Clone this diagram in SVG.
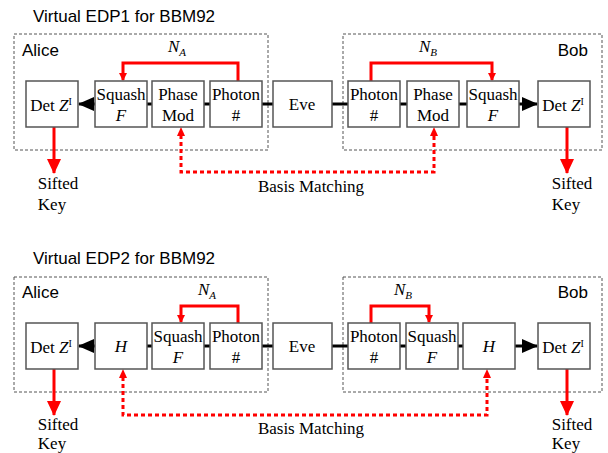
<svg xmlns="http://www.w3.org/2000/svg" width="608" height="453" viewBox="0 0 608 453">
<style>
.title{font-family:"Liberation Sans",Arial,sans-serif;font-size:17px;fill:#000}
.lbl{font-family:'Liberation Serif','DejaVu Serif',serif;font-size:17px;fill:#000;text-anchor:middle}
.it{font-style:italic}
.box{fill:#fff;stroke:#555;stroke-width:1.5}
.party{fill:none;stroke:#555;stroke-width:1;stroke-dasharray:3 2}
.blk{stroke:#000;stroke-width:3;fill:none}
.red{stroke:#f00;stroke-width:3;fill:none}
.dot{stroke:#f00;stroke-width:3;fill:none;stroke-dasharray:4 3}
</style>
<defs>
<marker id="ah" markerWidth="8" markerHeight="8" refX="7" refY="4" orient="auto" markerUnits="userSpaceOnUse"><path d="M0,0 L8,4 L0,8 z" fill="#f00"/></marker>
<marker id="bh" markerWidth="16" markerHeight="14" refX="15" refY="7" orient="auto" markerUnits="userSpaceOnUse"><path d="M0,0 L16,7 L0,14 z" fill="#000"/></marker>
<marker id="rh" markerWidth="15" markerHeight="14" refX="14" refY="7" orient="auto" markerUnits="userSpaceOnUse"><path d="M0,0 L15,7 L0,14 z" fill="#f00"/></marker>
</defs>

<!-- ===== Diagram 1 ===== -->
<text class="title" x="33" y="22">Virtual EDP1 for BBM92</text>
<g id="alice1"><rect class="party" x="14" y="34" width="254" height="116"/><text class="title" x="22" y="56">Alice</text></g>
<g id="bob1"><rect class="party" x="343" y="34" width="259" height="116"/><text class="title" x="588" y="56" text-anchor="end">Bob</text></g>

<g id="connectors1">
<line class="blk" x1="262" y1="104" x2="273" y2="104"/>
<line class="blk" x1="332" y1="104" x2="348" y2="104"/>
<line class="blk" x1="204" y1="104" x2="210" y2="104"/>
<line class="blk" x1="147" y1="104" x2="152" y2="104"/>
<line class="blk" x1="95" y1="104" x2="79" y2="104" marker-end="url(#bh)"/>
<line class="blk" x1="400" y1="104" x2="407" y2="104"/>
<line class="blk" x1="459" y1="104" x2="467" y2="104"/>
<line class="blk" x1="519" y1="104" x2="537" y2="104" marker-end="url(#bh)"/>
<polyline class="red" points="238,81 238,63 123,63 123,80" marker-end="url(#ah)"/>
<polyline class="red" points="371,81 371,63 492,63 492,80" marker-end="url(#ah)"/>
<line class="red" x1="54" y1="127" x2="54" y2="173" marker-end="url(#rh)"/>
<line class="red" x1="567" y1="127" x2="567" y2="173" marker-end="url(#rh)"/>
<polyline class="dot" points="181,135 181,172 434,172 434,135"/>
<path d="M177,136 L181,127 L185,136 z" fill="#f00"/>
<path d="M430,136 L434,127 L438,136 z" fill="#f00"/>
</g>
<text class="lbl it" x="177" y="52" font-family="Liberation Serif, serif">N<tspan font-size="11" dy="4">A</tspan></text>
<text class="lbl it" x="428" y="52" font-family="Liberation Serif, serif">N<tspan font-size="11" dy="4">B</tspan></text>
<text class="lbl" x="311" y="192" font-family="Liberation Serif, serif">Basis Matching</text>
<text class="lbl" x="58" y="189" font-family="Liberation Serif, serif">Sifted</text><text class="lbl" x="52" y="210" font-family="Liberation Serif, serif">Key</text>
<text class="lbl" x="572" y="189" font-family="Liberation Serif, serif">Sifted</text><text class="lbl" x="566" y="210" font-family="Liberation Serif, serif">Key</text>

<g id="a1det" font-family="Liberation Serif, serif"><rect class="box" x="26" y="81" width="52" height="46"/><text class="lbl" x="51" y="111" font-family="Liberation Serif, serif">Det <tspan class="it">Z</tspan><tspan font-size="10" dy="-6">I</tspan></text></g>
<g id="a1sq"><rect class="box" x="95" y="81" width="52" height="46"/><text class="lbl" x="121" y="100" font-family="Liberation Serif, serif">Squash</text><text class="lbl it" x="121" y="121" font-family="Liberation Serif, serif">F</text></g>
<g id="a1pm"><rect class="box" x="152" y="81" width="52" height="46"/><text class="lbl" x="178" y="100" font-family="Liberation Serif, serif">Phase</text><text class="lbl" x="178" y="121" font-family="Liberation Serif, serif">Mod</text></g>
<g id="a1ph"><rect class="box" x="210" y="81" width="52" height="46"/><text class="lbl" x="236" y="100" font-family="Liberation Serif, serif">Photon</text><text class="lbl" x="236" y="121" font-family="Liberation Serif, serif">#</text></g>
<g id="eve1"><rect class="box" x="273" y="81" width="59" height="46"/><text class="lbl" x="302" y="110" font-family="Liberation Serif, serif">Eve</text></g>
<g id="b1ph"><rect class="box" x="348" y="81" width="52" height="46"/><text class="lbl" x="374" y="100" font-family="Liberation Serif, serif">Photon</text><text class="lbl" x="374" y="121" font-family="Liberation Serif, serif">#</text></g>
<g id="b1pm"><rect class="box" x="407" y="81" width="52" height="46"/><text class="lbl" x="433" y="100" font-family="Liberation Serif, serif">Phase</text><text class="lbl" x="433" y="121" font-family="Liberation Serif, serif">Mod</text></g>
<g id="b1sq"><rect class="box" x="467" y="81" width="52" height="46"/><text class="lbl" x="493" y="100" font-family="Liberation Serif, serif">Squash</text><text class="lbl it" x="493" y="121" font-family="Liberation Serif, serif">F</text></g>
<g id="b1det"><rect class="box" x="538" y="81" width="52" height="46"/><text class="lbl" x="563" y="111" font-family="Liberation Serif, serif">Det <tspan class="it">Z</tspan><tspan font-size="10" dy="-6">I</tspan></text></g>

<!-- ===== Diagram 2 ===== -->
<text class="title" x="33" y="264">Virtual EDP2 for BBM92</text>
<g id="alice2"><rect class="party" x="14" y="277" width="254" height="115"/><text class="title" x="22" y="298">Alice</text></g>
<g id="bob2"><rect class="party" x="343" y="277" width="259" height="115"/><text class="title" x="588" y="298" text-anchor="end">Bob</text></g>

<g id="connectors2">
<line class="blk" x1="262" y1="346" x2="273" y2="346"/>
<line class="blk" x1="332" y1="346" x2="348" y2="346"/>
<line class="blk" x1="204" y1="346" x2="210" y2="346"/>
<line class="blk" x1="147" y1="346" x2="152" y2="346"/>
<line class="blk" x1="95" y1="346" x2="79" y2="346" marker-end="url(#bh)"/>
<line class="blk" x1="400" y1="346" x2="406" y2="346"/>
<line class="blk" x1="458" y1="346" x2="463" y2="346"/>
<line class="blk" x1="515" y1="346" x2="537" y2="346" marker-end="url(#bh)"/>
<polyline class="red" points="238,323 238,306 181,306 181,322" marker-end="url(#ah)"/>
<polyline class="red" points="371,323 371,306 429,306 429,322" marker-end="url(#ah)"/>
<line class="red" x1="54" y1="369" x2="54" y2="415" marker-end="url(#rh)"/>
<line class="red" x1="567" y1="369" x2="567" y2="415" marker-end="url(#rh)"/>
<polyline class="dot" points="123,377 123,415 487,415 487,377"/>
<path d="M119,378 L123,369 L127,378 z" fill="#f00"/>
<path d="M483,378 L487,369 L491,378 z" fill="#f00"/>
</g>
<text class="lbl it" x="207" y="295" font-family="Liberation Serif, serif">N<tspan font-size="11" dy="4">A</tspan></text>
<text class="lbl it" x="403" y="295" font-family="Liberation Serif, serif">N<tspan font-size="11" dy="4">B</tspan></text>
<text class="lbl" x="311" y="434" font-family="Liberation Serif, serif">Basis Matching</text>
<text class="lbl" x="58" y="430" font-family="Liberation Serif, serif">Sifted</text><text class="lbl" x="52" y="449" font-family="Liberation Serif, serif">Key</text>
<text class="lbl" x="572" y="430" font-family="Liberation Serif, serif">Sifted</text><text class="lbl" x="566" y="449" font-family="Liberation Serif, serif">Key</text>

<g id="a2det"><rect class="box" x="26" y="323" width="52" height="46"/><text class="lbl" x="51" y="353" font-family="Liberation Serif, serif">Det <tspan class="it">Z</tspan><tspan font-size="10" dy="-6">I</tspan></text></g>
<g id="a2h"><rect class="box" x="95" y="323" width="52" height="46"/><text class="lbl it" x="121" y="352" font-family="Liberation Serif, serif">H</text></g>
<g id="a2sq"><rect class="box" x="152" y="323" width="52" height="46"/><text class="lbl" x="178" y="342" font-family="Liberation Serif, serif">Squash</text><text class="lbl it" x="178" y="363" font-family="Liberation Serif, serif">F</text></g>
<g id="a2ph"><rect class="box" x="210" y="323" width="52" height="46"/><text class="lbl" x="236" y="342" font-family="Liberation Serif, serif">Photon</text><text class="lbl" x="236" y="363" font-family="Liberation Serif, serif">#</text></g>
<g id="eve2"><rect class="box" x="273" y="323" width="59" height="46"/><text class="lbl" x="302" y="352" font-family="Liberation Serif, serif">Eve</text></g>
<g id="b2ph"><rect class="box" x="348" y="323" width="52" height="46"/><text class="lbl" x="374" y="342" font-family="Liberation Serif, serif">Photon</text><text class="lbl" x="374" y="363" font-family="Liberation Serif, serif">#</text></g>
<g id="b2sq"><rect class="box" x="406" y="323" width="52" height="46"/><text class="lbl" x="432" y="342" font-family="Liberation Serif, serif">Squash</text><text class="lbl it" x="432" y="363" font-family="Liberation Serif, serif">F</text></g>
<g id="b2h"><rect class="box" x="463" y="323" width="52" height="46"/><text class="lbl it" x="489" y="352" font-family="Liberation Serif, serif">H</text></g>
<g id="b2det"><rect class="box" x="538" y="323" width="52" height="46"/><text class="lbl" x="563" y="353" font-family="Liberation Serif, serif">Det <tspan class="it">Z</tspan><tspan font-size="10" dy="-6">I</tspan></text></g>
</svg>
